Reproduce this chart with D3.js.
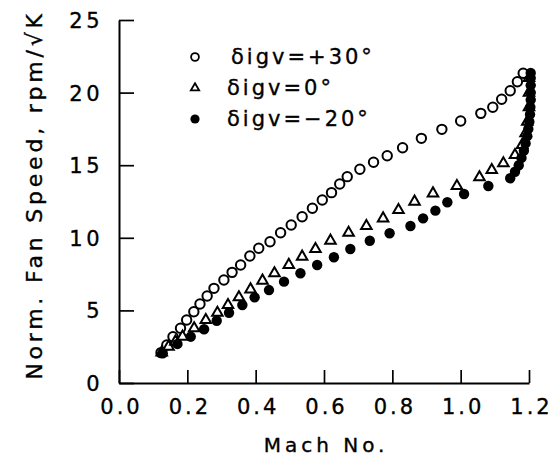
<!DOCTYPE html>
<html>
<head>
<meta charset="utf-8">
<script src="https://cdn.jsdelivr.net/npm/d3@7"></script>
<style>
  body { margin: 0; background: #fff; }
  text { font-family: "DejaVu Sans", sans-serif; fill: #000; stroke: #000; stroke-width: 0.35px; }
</style>
</head>
<body>
<div id="chart"></div>
<script>
// series values: [Mach No., normalised fan speed]
var igvPlus30 = [
  [0.123,2.09],[0.140,2.62],[0.158,3.19],[0.180,3.77],[0.198,4.34],[0.219,4.91],
  [0.237,5.44],[0.258,5.99],[0.278,6.52],[0.307,7.09],[0.331,7.62],[0.356,8.13],
  [0.383,8.75],[0.409,9.28],[0.442,9.73],[0.473,10.35],[0.504,10.88],[0.536,11.45],
  [0.566,12.03],[0.595,12.60],[0.622,13.11],[0.646,13.71],[0.668,14.21],[0.705,14.72],
  [0.745,15.2],[0.785,15.65],[0.830,16.2],[0.885,16.85],[0.945,17.47],[1.000,18.04],
  [1.059,18.57],[1.094,18.99],[1.120,19.54],[1.145,20.13],[1.166,20.75],[1.183,21.33]
];
var igvZero = [
  [0.125,2.1],[0.145,2.5],[0.165,2.85],[0.186,3.19],[0.220,3.77],[0.254,4.34],
  [0.288,4.84],[0.319,5.37],[0.351,5.90],[0.385,6.45],[0.420,7.05],[0.455,7.56],
  [0.497,8.13],[0.536,8.70],[0.575,9.23],[0.619,9.80],[0.672,10.35],[0.724,10.81],
  [0.773,11.34],[0.818,11.91],[0.865,12.49],[0.919,13.06],[0.989,13.57],[1.055,14.17],
  [1.091,14.67],[1.125,15.13],[1.159,15.70],[1.180,16.4],[1.190,17.2],[1.195,18.0],
  [1.200,19.0],[1.200,20.0],[1.200,21.0]
];
var igvMinus20 = [
  [0.128,2.05],[0.171,2.69],[0.210,3.19],[0.249,3.70],[0.286,4.29],[0.322,4.84],
  [0.361,5.37],[0.397,5.90],[0.439,6.40],[0.483,6.98],[0.531,7.56],[0.580,8.13],
  [0.629,8.66],[0.677,9.23],[0.734,9.80],[0.792,10.31],[0.853,10.81],[0.890,11.34],
  [0.926,11.87],[0.961,12.45],[1.010,13.02],[1.081,13.57],[1.145,14.10],[1.159,14.55],
  [1.170,15.0],[1.178,15.5],[1.185,16.0],[1.190,16.5],[1.195,17.0],[1.198,17.5],
  [1.201,18.0],[1.203,18.5],[1.204,19.0],[1.205,19.5],[1.205,20.0],[1.205,20.5],
  [1.205,21.0],[1.205,21.35]
];

var xTicks = [0.0, 0.2, 0.4, 0.6, 0.8, 1.0, 1.2];
var yTicks = [0, 5, 10, 15, 20, 25];
var legendLabels = ["\u03B4igv=+30\u00B0", "\u03B4igv=0\u00B0", "\u03B4igv=\u221220\u00B0"];

var width = 552, height = 468;
var margin = { top: 20, left: 119, right: 23, bottom: 85 };

var svg = d3.select("#chart").append("svg")
  .attr("width", width)
  .attr("height", height);

var x = d3.scaleLinear().domain([0, 1.2]).range([margin.left, width - margin.right]);
var y = d3.scaleLinear().domain([0, 25]).range([height - margin.bottom, margin.top]);

// axes, ticks pointing inward
var xAxis = d3.axisBottom(x)
  .tickValues(xTicks)
  .tickFormat(d3.format(".1f"))
  .tickSizeInner(-13)
  .tickSizeOuter(0)
  .tickPadding(16);

var yAxis = d3.axisLeft(y)
  .tickValues(yTicks)
  .tickSizeInner(-15)
  .tickSizeOuter(0)
  .tickPadding(16);

var gx = svg.append("g")
  .attr("transform", "translate(0," + y(0) + ")")
  .call(xAxis);
gx.selectAll("text")
  .style("font-size", "21px")
  .style("letter-spacing", "3px")
  .attr("dx", "2px");

var gy = svg.append("g")
  .attr("transform", "translate(" + x(0) + ",0)")
  .call(yAxis);
gy.selectAll("text")
  .style("font-size", "21px")
  .style("letter-spacing", "3.5px")
  .attr("dy", "0.36em");

svg.selectAll(".domain").attr("stroke-width", 2);
svg.selectAll(".tick line").attr("stroke-width", 1.7);

// axis titles
svg.append("text")
  .attr("x", (x(0) + x(1.2)) / 2 + 2)
  .attr("y", 452)
  .attr("text-anchor", "middle")
  .style("font-size", "20px")
  .style("letter-spacing", "4px")
  .text("Mach No.");

svg.append("text")
  .attr("transform", "translate(42," + 195 + ") rotate(-90)")
  .attr("text-anchor", "middle")
  .style("font-size", "22px")
  .style("letter-spacing", "3.8px")
  .text("Norm. Fan Speed, rpm/\u221AK");

// markers
var triangle = d3.symbol().type(d3.symbolTriangle).size(48);

svg.append("g").selectAll("circle")
  .data(igvPlus30)
  .enter().append("circle")
  .attr("cx", function(d) { return x(d[0]); })
  .attr("cy", function(d) { return y(d[1]); })
  .attr("r", 4.7)
  .attr("fill", "#fff")
  .attr("stroke", "#000")
  .attr("stroke-width", 2);

svg.append("g").selectAll("path")
  .data(igvZero)
  .enter().append("path")
  .attr("d", triangle)
  .attr("transform", function(d) { return "translate(" + x(d[0]) + "," + y(d[1]) + ")"; })
  .attr("fill", "#fff")
  .attr("stroke", "#000")
  .attr("stroke-width", 2);

svg.append("g").selectAll("circle")
  .data(igvMinus20)
  .enter().append("circle")
  .attr("cx", function(d) { return x(d[0]); })
  .attr("cy", function(d) { return y(d[1]); })
  .attr("r", 5.2)
  .attr("fill", "#000");

// legend
var legend = svg.append("g").attr("transform", "translate(195,57)");
var rows = legend.selectAll("g")
  .data(legendLabels)
  .enter().append("g")
  .attr("transform", function(d, i) { return "translate(0," + i * 31 + ")"; });

rows.append("text")
  .attr("x", function(d, i) { return i === 0 ? 36 : 32; })
  .attr("y", 7)
  .style("font-size", "21px")
  .style("letter-spacing", "3px")
  .text(function(d) { return d; });

rows.filter(function(d, i) { return i === 0; }).append("circle")
  .attr("r", 3.9).attr("fill", "#fff").attr("stroke", "#000").attr("stroke-width", 1.8);
rows.filter(function(d, i) { return i === 1; }).append("path")
  .attr("d", d3.symbol().type(d3.symbolTriangle).size(30))
  .attr("fill", "#fff").attr("stroke", "#000").attr("stroke-width", 1.8);
rows.filter(function(d, i) { return i === 2; }).append("circle")
  .attr("r", 4.6).attr("fill", "#000");
</script>
</body>
</html>
